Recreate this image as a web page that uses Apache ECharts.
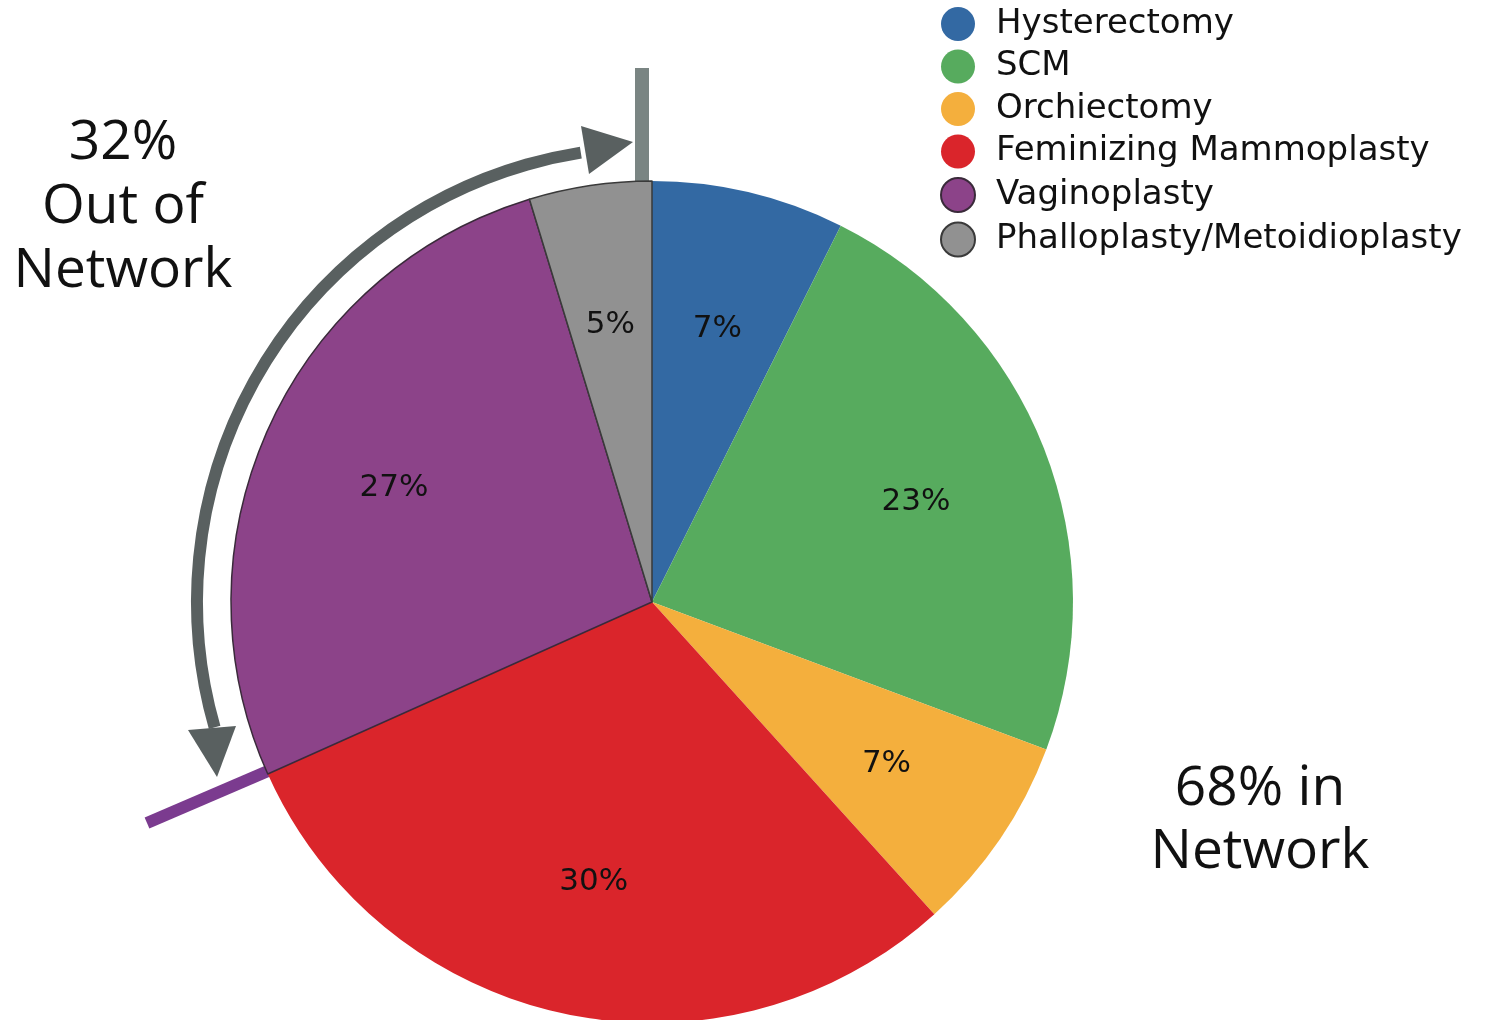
<!DOCTYPE html>
<html>
<head>
<meta charset="utf-8">
<script src="https://cdn.jsdelivr.net/npm/echarts@6/dist/echarts.min.js"></script>
<style>
  html, body { margin: 0; padding: 0; background: #fff; }
  #chart { width: 1493px; height: 1020px; }
</style>
</head>
<body>
<div id="chart"></div>
<script>
// surgery types, clockwise from 12 o'clock
var categories = ['Hysterectomy', 'SCM', 'Orchiectomy', 'Feminizing Mammoplasty', 'Vaginoplasty', 'Phalloplasty/Metoidioplasty'];
// slice shares (%)
var shares = [7.4, 23.3, 7.6, 30, 27, 4.7];
// printed labels
var pctLabels = ['7%', '23%', '7%', '30%', '27%', '5%'];
var colors = ['#3369a3', '#57ab5e', '#f4af3d', '#da252b', '#8c4389', '#919191'];
var borders = [null, null, null, null, '#3a2a3a', '#3a3a3a'];

var cx = 652, cy = 602, R = 421;

var pieData = categories.map(function (name, i) {
  var item = { name: name, value: shares[i], itemStyle: { color: colors[i] } };
  if (borders[i]) {
    item.itemStyle.borderColor = borders[i];
    item.itemStyle.borderWidth = 1.5;
  }
  return item;
});

var labelData = categories.map(function (name, i) {
  return { name: name, value: shares[i] };
});

var chart = echarts.init(document.getElementById('chart'));

var a1 = 164 * Math.PI / 180, a2 = 261 * Math.PI / 180;

var option = {
  animation: false,
  legend: {
    orient: 'vertical',
    left: 935,
    top: 2,
    icon: 'circle',
    itemWidth: 34,
    itemHeight: 34,
    itemGap: 8.5,
    selectedMode: false,
    data: categories,
    textStyle: {
      fontFamily: 'DejaVu Sans',
      fontSize: 34,
      color: '#111',
      padding: [0, 0, 0, 16]
    }
  },
  series: [
    {
      type: 'pie',
      center: [cx, cy],
      radius: [0, R],
      startAngle: 90,
      clockwise: true,
      silent: true,
      label: { show: false },
      labelLine: { show: false },
      data: pieData
    },
    {
      // transparent ring, only to place the labels at ~2/3 radius
      type: 'pie',
      center: [cx, cy],
      radius: [140, R],
      startAngle: 90,
      clockwise: true,
      silent: true,
      itemStyle: { color: 'rgba(0,0,0,0)', borderWidth: 0 },
      label: {
        show: true,
        position: 'inside',
        offset: [0, 3],
        fontFamily: 'DejaVu Sans',
        fontSize: 31,
        color: '#111',
        formatter: function (p) { return pctLabels[p.dataIndex]; }
      },
      labelLine: { show: false },
      data: labelData
    }
  ],
  graphic: [
    { type: 'rect', shape: { x: 635, y: 68, width: 14, height: 114 }, style: { fill: '#7a8583' } },
    {
      type: 'arc',
      shape: { cx: cx, cy: cy, r: 455, startAngle: a1, endAngle: a2, clockwise: true },
      style: { stroke: '#596060', lineWidth: 12, fill: null }
    },
    { type: 'polygon', shape: { points: [[581, 126], [589, 174], [633, 142]] }, style: { fill: '#596060' } },
    { type: 'polygon', shape: { points: [[188, 730], [236, 726], [217, 777]] }, style: { fill: '#596060' } },
    {
      type: 'line',
      shape: { x1: 268, y1: 771, x2: 147, y2: 823 },
      style: { stroke: '#7b3b8f', lineWidth: 12 }
    },
    {
      type: 'text',
      style: {
        x: 123, y: 111, text: '32%\nOut of\nNetwork', align: 'center',
        fontFamily: 'Open Sans', fontSize: 55, lineHeight: 64, fill: '#111'
      }
    },
    {
      type: 'text',
      style: {
        x: 1260, y: 758, text: '68% in\nNetwork', align: 'center',
        fontFamily: 'Open Sans', fontSize: 55, lineHeight: 63, fill: '#111'
      }
    }
  ]
};

chart.setOption(option);
</script>
</body>
</html>
